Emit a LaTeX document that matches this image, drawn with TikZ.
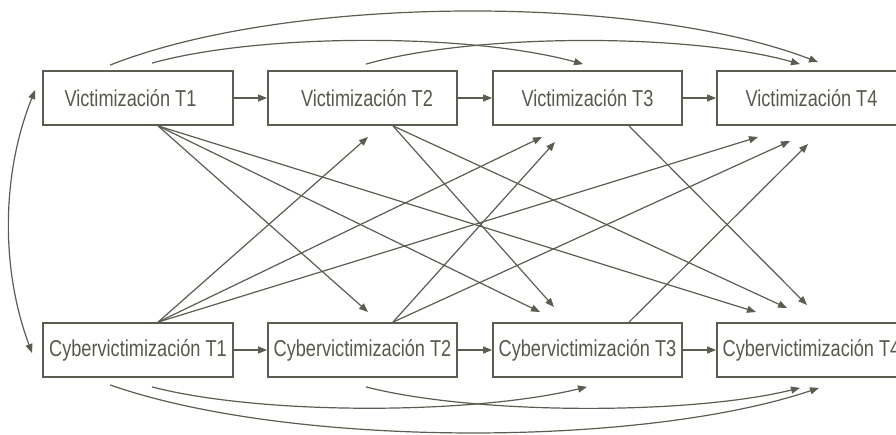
\documentclass[tikz,border=0pt]{standalone}
\usepackage{fontspec}
\setmainfont{Liberation Sans}[FakeStretch=0.79]
\usetikzlibrary{arrows.meta,calc}
\definecolor{ln}{RGB}{90,94,80}
\definecolor{tx}{RGB}{86,90,76}
\begin{document}
\begin{tikzpicture}[x=1pt,y=-1pt,
  box/.style={draw=ln,line width=1.8pt,minimum width=189pt,minimum height=54pt,inner sep=1pt,text=tx,font=\fontsize{23}{27}\selectfont},
  arr/.style={draw=ln,line width=1.2pt,-{Triangle[length=9pt,width=7pt]}},
  darr/.style={draw=ln,line width=1.2pt,{Triangle[length=9pt,width=7pt]}-{Triangle[length=9pt,width=7pt]}}
  ]
\useasboundingbox (0,0) rectangle (896,434);
\clip (0,0) rectangle (896,434);
\fill[white] (0,0) rectangle (896,434);

% boxes
\node[box,minimum width=190pt] (v1) at (138,98) {\hspace*{-15pt}Victimización T1};
\node[box] (v2) at (362.5,98) {\hspace*{9pt}Victimización T2};
\node[box] (v3) at (587.5,98) {Victimización T3};
\node[box] (v4) at (811.5,98) {Victimización T4};
\node[box,minimum width=190pt] (c1) at (138,350) {Cybervictimización T1};
\node[box] (c2) at (362.5,350) {Cybervictimización T2};
\node[box] (c3) at (587.5,350) {Cybervictimización T3};
\node[box] (c4) at (811.5,350) {Cybervictimización T4};

% horizontal arrows
\draw[arr] (v1) -- (v2);
\draw[arr] (v2) -- (v3);
\draw[arr] (v3) -- (v4);
\draw[arr] (c1) -- (c2);
\draw[arr] (c2) -- (c3);
\draw[arr] (c3) -- (c4);

% start points of cross arrows
\coordinate (sv1) at ($(v1.south)+(20,0)$);
\coordinate (sv2) at ($(v2.south)+(30.5,0)$);
\coordinate (sv3) at ($(v3.south)+(41.5,0)$);
\coordinate (sc1) at ($(c1.north)+(20,0)$);
\coordinate (sc2) at ($(c2.north)+(30.5,0)$);
\coordinate (sc3) at ($(c3.north)+(41.5,0)$);
% tips
\coordinate (d12) at (368,312);
\coordinate (d13) at (540,312);
\coordinate (d14) at (756,312);
\coordinate (d23) at (554,307);
\coordinate (d24) at (787,308);
\coordinate (d34) at (807,305);
\coordinate (u12) at (368,137);
\coordinate (u13) at (542,137);
\coordinate (u14) at (758,137);
\coordinate (u23) at (555,142);
\coordinate (u24) at (790,141);
\coordinate (u34) at (808,144);

\draw[arr] (sv1) -- (d12);
\draw[arr] (sv1) -- (d13);
\draw[arr] (sv1) -- (d14);
\draw[arr] (sv2) -- (d23);
\draw[arr] (sv2) -- (d24);
\draw[arr] (sv3) -- (d34);
\draw[arr] (sc1) -- (u12);
\draw[arr] (sc1) -- (u13);
\draw[arr] (sc1) -- (u14);
\draw[arr] (sc2) -- (u23);
\draw[arr] (sc2) -- (u24);
\draw[arr] (sc3) -- (u34);

% top arcs
\draw[arr] ($(v1.north)+(-28,-5)$) .. controls (290,-6) and (640,-6) .. ($(v4.north)+(6.5,-8)$);
\draw[arr] ($(v1.north)+(14,-7)$) .. controls (260,33) and (470,33) .. ($(v3.north)+(-4.5,-6)$);
\draw[arr] ($(v2.north)+(3.5,-6)$) .. controls (475,33) and (690,33) .. ($(v4.north)+(-11.5,-6)$);

% bottom arcs
\draw[arr] ($(c1.south)+(-28,7)$) .. controls (290,448) and (640,448) .. ($(c4.south)+(7.5,10)$);
\draw[arr] ($(c1.south)+(14,9)$) .. controls (260,415) and (470,415) .. ($(c3.south)+(-0.5,9)$);
\draw[arr] ($(c2.south)+(3.5,9)$) .. controls (475,415) and (690,415) .. ($(c4.south)+(-11.5,10)$);

% left correlation arc
\draw[darr] ($(v1.west)+(-7,-8)$) .. controls (1,175) and (1,270) .. ($(c1.west)+(-10,3)$);
\end{tikzpicture}
\end{document}
